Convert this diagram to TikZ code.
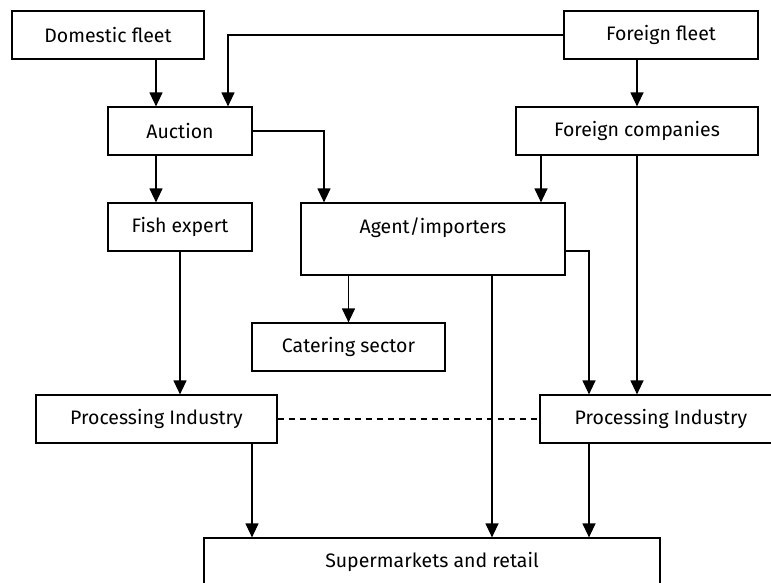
\documentclass[tikz,border=0pt]{standalone}
\usepackage{fontspec}
\setmainfont{Fira Sans}
\usetikzlibrary{arrows.meta, positioning}
\tikzset{
    box/.style={
        rectangle,
        draw=black,
        line width=1.2pt,
        inner sep=0pt,
        minimum height=48pt,
        fill=white,
        font=\fontsize{19.5}{23}\selectfont
    },
    flow/.style={
        draw=black,
        line width=1.2pt,
        -{Triangle[width=13pt,length=14pt]}
    },
    link/.style={
        draw=black,
        line width=1.2pt,
        dash pattern=on 6pt off 5pt
    }
}
\begin{document}
\begin{tikzpicture}[x=1pt, y=-1pt]
\useasboundingbox (0,0) rectangle (771,582);

% Sources
\node[box, minimum width=192pt] (dom) at (108,35) {Domestic fleet};
\node[box, minimum width=194pt] (ffleet) at (661,35) {Foreign fleet};

% First stage
\node[box, minimum width=144pt] (auction) at (180,131) {Auction};
\node[box, minimum width=242pt] (fcomp) at (637,131) {Foreign companies};

% Middle
\node[box, minimum width=144pt] (fish) at (180,227) {Fish expert};
\node[box, minimum width=264pt, minimum height=72pt, text height=14pt, text depth=26pt] (agent) at (433,239) {Agent/importers};
\node[box, minimum width=193pt] (catering) at (348.5,347) {Catering sector};

% Processing
\node[box, minimum width=241pt] (procL) at (156.5,419) {Processing Industry};
\node[box, minimum width=242pt] (procR) at (661,419) {Processing Industry};

% Retail
\node[box, minimum width=456pt] (retail) at (432,562) {Supermarkets and retail};

% Flows from the fleets
\draw[flow] ([xshift=-24pt]auction.north |- dom.south) -- ([xshift=-24pt]auction.north);
\draw[flow] (ffleet.west) -| ([xshift=48pt]auction.north);
\draw[flow] (fcomp.north |- ffleet.south) -- (fcomp.north);

% Auction and foreign companies
\draw[flow] ([xshift=-24pt]auction.south) -- ([xshift=-24pt]auction.south |- fish.north);
\draw[flow] (auction.east) -| ([xshift=-109pt]agent.north);
\draw[flow] ([xshift=-96pt]fcomp.south) -- ([xshift=-96pt]fcomp.south |- agent.north);
\draw[flow] (fcomp.south) -- (fcomp.south |- procR.north);

% Agent/importers
\draw[flow] (agent.south -| catering.north) -- (catering.north);
\draw[flow] ([yshift=-12pt]agent.east) -| ([xshift=-72pt]procR.north);
\draw[flow] ([xshift=59pt]agent.south) -- ([xshift=59pt]agent.south |- retail.north);

% Processing
\draw[flow] (fish.south) -- (fish.south |- procL.north);
\draw[link] (procL.east) -- (procR.west);
\draw[flow] ([xshift=-180pt]retail.north |- procL.south) -- ([xshift=-180pt]retail.north);
\draw[flow] ([xshift=-72pt]procR.south) -- ([xshift=-72pt]procR.south |- retail.north);

\end{tikzpicture}
\end{document}
